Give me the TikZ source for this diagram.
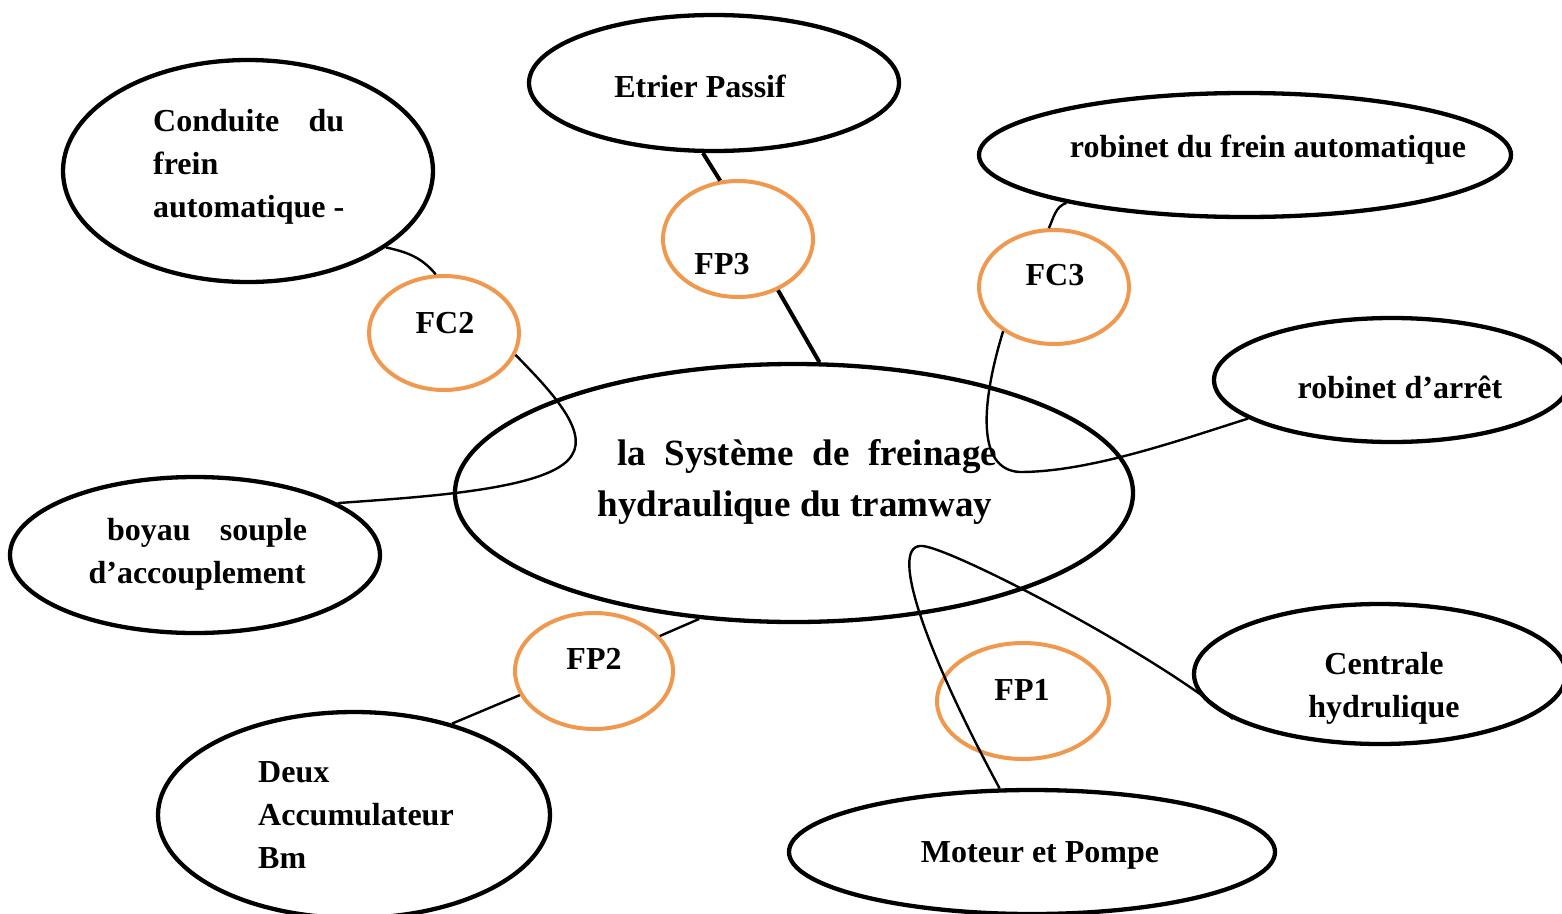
\documentclass[tikz,border=0pt]{standalone}
\usepackage{fontspec}
\setmainfont{Liberation Serif}
\usetikzlibrary{shapes.geometric}
\definecolor{fcorange}{RGB}{240,152,78}
\begin{document}
\begin{tikzpicture}[x=1pt,y=-1pt,
  ell/.style={draw=black,line width=4.3pt,ellipse,inner sep=0pt},
  fcell/.style={draw=fcorange,line width=4pt,ellipse,inner sep=0pt},
  lab/.style={font=\fontsize{32}{43}\selectfont\bfseries,inner sep=0pt,text=black},
  conn/.style={line width=2.4pt},
  thickconn/.style={line width=4pt}]
\useasboundingbox (0,0) rectangle (1562,913);
% main ellipses
\node[ell,minimum width=370pt,minimum height=136pt] (etr) at (714,83) {};
\node[ell,minimum width=370pt,minimum height=222pt] (cond) at (248,171) {};
\node[ell,minimum width=532pt,minimum height=124pt] (rfa) at (1245,155) {};
\node[ell,minimum width=356pt,minimum height=124pt] (rda) at (1392,380) {};
\node[ell,minimum width=678pt,minimum height=258pt] (sys) at (794,493) {};
\node[ell,minimum width=370pt,minimum height=156pt] (boy) at (195,555) {};
\node[ell,minimum width=372pt,minimum height=140pt] (cen) at (1380,674) {};
\node[ell,minimum width=392pt,minimum height=206pt] (acc) at (354,815) {};
\node[ell,minimum width=486pt,minimum height=124pt] (mp) at (1032,852) {};
% function circles
\node[fcell,minimum width=150pt,minimum height=114pt] (fc2) at (444,333) {};
\node[fcell,minimum width=150pt,minimum height=116pt] (fp3) at (738,239) {};
\node[fcell,minimum width=150pt,minimum height=114pt] (fc3) at (1054,287) {};
\node[fcell,minimum width=158pt,minimum height=116pt] (fp2) at (594,671) {};
\node[fcell,minimum width=172pt,minimum height=116pt] (fp1) at (1023,701) {};
% labels
\node[lab] (tetr) at (700,86) {Etrier Passif};
\node[lab,anchor=west,align=left] (tcond) at (153,167) {\makebox[191pt][s]{Conduite du}\\frein\\automatique -};
\node[lab] (trfa) at (1268,150) {robinet du frein automatique};
\node[lab] (trda) at (1400,387) {robinet d’arrêt};
\node[lab,align=center,font=\fontsize{37}{51}\selectfont\bfseries] (tsys) at (795,482) {\hspace*{24pt}\makebox[380pt][s]{la Système de freinage}\\hydraulique du tramway};
\node[lab,align=center] (tboy) at (197,554) {\hspace*{20pt}\makebox[200pt][s]{boyau souple}\\d’accouplement};
\node[lab,align=center] (tcen) at (1384,688) {Centrale\\hydrulique};
\node[lab,anchor=west,align=left] (tacc) at (258,815) {Deux\\Accumulateur\\Bm};
\node[lab] (tmp) at (1040,855) {Moteur et Pompe};
\node[lab] (tfc2) at (445,323) {FC2};
\node[lab] (tfp3) at (722,264) {FP3};
\node[lab] (tfc3) at (1055,275) {FC3};
\node[lab] (tfp2) at (594,659) {FP2};
\node[lab] (tfp1) at (1022,690) {FP1};
% connectors
\draw[thickconn] (etr.261) -- (fp3.107);
\draw[thickconn] (fp3.-52) -- (sys.79);
\draw[conn] (cond.-29) to[out=-12,in=130] (fc2.98);
\draw[conn] (fc2.-17) .. controls (550,390) and (588,430) .. (572,455)
  .. controls (552,490) and (420,497) .. (boy.20);
\draw[conn] (fc3.95) to[out=65,in=200] (rfa.195);
\draw[conn] (fc3.221) .. controls (982,400) and (975,470) .. (1020,472)
  .. controls (1090,472) and (1180,440) .. (rda.195);
\draw[conn] (sys.233) -- (fp2.28);
\draw[conn] (fp2.198) -- (acc.43);
\draw[conn] (mp.117) .. controls (925,650) and (890,548) .. (920,546)
  .. controls (940,542) and (1150,650) .. (cen.197);
\end{tikzpicture}
\end{document}
